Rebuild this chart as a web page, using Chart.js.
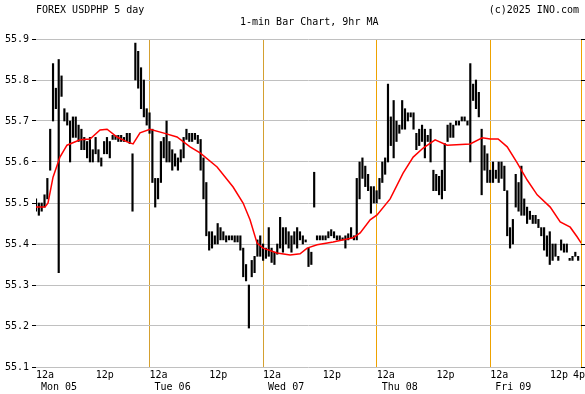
<!DOCTYPE html>
<html>
<head>
<meta charset="utf-8">
<script src="https://cdn.jsdelivr.net/npm/chart.js@4.4.1/dist/chart.umd.min.js"></script>
<style>
  html, body { margin: 0; padding: 0; background: #fff; }
  canvas { display: block; }
</style>
</head>
<body>
<canvas id="fxChart" width="585" height="394"></canvas>
<script>
// 1-min bars, one every 0.025 day starting Mon 12a (x in days)
const barStep = 0.025;
const barHigh = [
  55.51,55.50,55.50,55.52,55.56,55.68,55.84,55.78,55.85,55.81,
  55.73,55.72,55.70,55.71,55.71,55.69,55.68,55.66,55.65,55.66,
  55.63,55.66,55.63,55.61,55.65,55.66,55.65,55.665,55.665,55.665,
  55.665,55.66,55.67,55.67,55.62,55.89,55.87,55.83,55.80,55.73,
  55.72,55.68,55.56,55.56,55.65,55.66,55.70,55.65,55.63,55.62,
  55.61,55.63,55.66,55.68,55.67,55.67,55.67,55.665,55.655,55.61,
  55.55,55.43,55.43,55.42,55.45,55.44,55.43,55.42,55.42,55.42,
  55.42,55.42,55.42,55.39,55.35,55.30,55.36,55.37,55.41,55.42,
  55.40,55.39,55.44,55.39,55.38,55.40,55.465,55.44,55.44,55.43,
  55.42,55.43,55.44,55.43,55.42,55.41,55.39,55.38,55.575,55.42,
  55.42,55.42,55.42,55.43,55.435,55.43,55.42,55.42,55.415,55.42,
  55.425,55.44,55.42,55.56,55.60,55.61,55.59,55.57,55.54,55.54,
  55.53,55.56,55.60,55.61,55.79,55.71,55.75,55.70,55.69,55.75,
  55.73,55.72,55.72,55.72,55.67,55.68,55.69,55.68,55.665,55.68,
  55.58,55.57,55.565,55.58,55.645,55.69,55.695,55.69,55.70,55.70,
  55.71,55.71,55.70,55.84,55.79,55.80,55.77,55.68,55.64,55.62,
  55.58,55.60,55.58,55.60,55.60,55.59,55.53,55.44,55.46,55.57,
  55.55,55.59,55.51,55.49,55.48,55.47,55.47,55.46,55.44,55.44,
  55.42,55.43,55.40,55.40,55.37,55.41,55.40,55.40,55.365,55.37,
  55.38,55.37
];
const barLow = [
  55.48,55.47,55.48,55.49,55.51,55.58,55.70,55.73,55.33,55.76,
  55.70,55.69,55.60,55.66,55.66,55.65,55.63,55.63,55.61,55.60,
  55.60,55.62,55.60,55.59,55.62,55.62,55.61,55.655,55.655,55.65,
  55.65,55.65,55.65,55.645,55.48,55.80,55.78,55.73,55.71,55.69,
  55.67,55.55,55.49,55.51,55.55,55.61,55.60,55.60,55.58,55.59,
  55.58,55.60,55.61,55.655,55.65,55.65,55.655,55.645,55.58,55.51,
  55.42,55.385,55.39,55.40,55.40,55.41,55.41,55.405,55.41,55.41,
  55.405,55.405,55.385,55.32,55.31,55.195,55.32,55.33,55.37,55.37,
  55.36,55.365,55.37,55.355,55.35,55.375,55.39,55.38,55.40,55.39,
  55.38,55.40,55.39,55.41,55.40,55.405,55.345,55.35,55.49,55.41,
  55.41,55.41,55.41,55.415,55.42,55.415,55.41,55.41,55.41,55.39,
  55.41,55.415,55.41,55.41,55.51,55.56,55.54,55.53,55.475,55.50,
  55.50,55.51,55.55,55.57,55.60,55.64,55.61,55.65,55.67,55.68,
  55.68,55.70,55.71,55.68,55.63,55.64,55.65,55.61,55.65,55.60,
  55.53,55.53,55.52,55.51,55.53,55.65,55.66,55.66,55.69,55.69,
  55.70,55.70,55.69,55.60,55.75,55.73,55.71,55.52,55.58,55.55,
  55.55,55.55,55.56,55.55,55.56,55.53,55.42,55.39,55.40,55.49,
  55.48,55.47,55.47,55.45,55.46,55.45,55.45,55.44,55.42,55.385,
  55.37,55.35,55.36,55.37,55.36,55.385,55.38,55.38,55.36,55.36,
  55.37,55.36
];

// 9hr moving average
const maDays = [0,0.079,0.106,0.150,0.211,0.273,0.388,0.476,0.564,0.626,
  0.714,0.802,0.855,0.916,1.004,1.119,1.242,1.357,1.445,1.595,
  1.736,1.824,1.885,1.947,2.000,2.123,2.238,2.326,2.388,2.476,
  2.617,2.740,2.793,2.855,2.943,3.004,3.119,3.233,3.322,3.410,
  3.515,3.621,3.824,3.930,4.000,4.070,4.150,4.238,4.326,4.414,
  4.529,4.617,4.705,4.767,4.802];
const maValues = [55.490,55.490,55.500,55.563,55.612,55.641,55.654,55.656,55.678,55.680,
  55.661,55.649,55.644,55.671,55.680,55.671,55.661,55.637,55.622,55.588,
  55.539,55.500,55.459,55.402,55.390,55.378,55.373,55.376,55.390,55.398,
  55.405,55.412,55.415,55.427,55.459,55.471,55.510,55.573,55.612,55.634,
  55.654,55.641,55.644,55.659,55.656,55.656,55.637,55.598,55.556,55.520,
  55.490,55.454,55.441,55.417,55.402];

// axis
const xTickDays = [0,0.5,1,1.5,2,2.5,3,3.5,4,4.5,4.8];
const xTickLabels = ["12a","12p","12a","12p","12a","12p","12a","12p","12a","12p","4p"];
const dayLabels = ["Mon 05","Tue 06","Wed 07","Thu 08","Fri 09"];
const dayLines = [1,2,3,4,4.8];
const yMin = 55.1, yMax = 55.9;

const monoFont = "DejaVu Sans Mono";

let barData = [];
for (let i = 0; i < barHigh.length; i++) {
  barData.push({x: i * barStep, y: [barLow[i], barHigh[i]]});
}
let maData = [];
for (let i = 0; i < maDays.length; i++) {
  maData.push({x: maDays[i], y: maValues[i]});
}

const textPlugin = {
  id: 'textPlugin',
  afterDraw(chart) {
    const ctx = chart.ctx;
    const xs = chart.scales.x;
    ctx.save();
    ctx.fillStyle = '#000';
    ctx.font = '10px ' + monoFont;
    ctx.textBaseline = 'alphabetic';
    ctx.textAlign = 'left';
    ctx.fillText('FOREX USDPHP 5 day', 36, 13);
    ctx.fillText('1-min Bar Chart, 9hr MA', 240, 25);
    ctx.textAlign = 'right';
    ctx.fillText('(c)2025 INO.com', 579, 13);

    // x labels
    for (let i = 0; i < xTickDays.length; i++) {
      let px = xs.getPixelForValue(xTickDays[i]);
      if (i == xTickDays.length - 1) {
        ctx.textAlign = 'right';
        ctx.fillText(xTickLabels[i], px + 4, 378);
      } else {
        ctx.textAlign = 'left';
        let off = xTickLabels[i] == '12p' ? 3 : 0;
        ctx.fillText(xTickLabels[i], px + off, 378);
      }
    }
    ctx.textAlign = 'left';
    for (let d = 0; d < dayLabels.length; d++) {
      let px = xs.getPixelForValue(d);
      ctx.fillText(dayLabels[d], px + 5, 390);
    }
    ctx.restore();
  }
};

const fxCtx = document.getElementById('fxChart').getContext('2d');
const fxChart = new Chart(fxCtx, {
  type: 'bar',
  data: {
    datasets: [
      {
        type: 'line',
        label: '9hr MA',
        data: maData,
        borderColor: '#ff0000',
        borderWidth: 1.5,
        pointRadius: 0,
        tension: 0,
        order: 0
      },
      {
        type: 'bar',
        label: 'USDPHP',
        data: barData,
        backgroundColor: '#000',
        barThickness: 1.5,
        minBarLength: 2,
        order: 1
      }
    ]
  },
  options: {
    responsive: false,
    animation: false,
    layout: { padding: { top: 39, left: 0, right: 0, bottom: 0 } },
    plugins: {
      legend: { display: false },
      tooltip: { enabled: false },
      title: { display: false }
    },
    scales: {
      x: {
        type: 'linear',
        offset: false,
        min: 0,
        max: 4.8,
        afterBuildTicks: (axis) => { axis.ticks = xTickDays.map(v => ({value: v})); },
        afterFit: (axis) => { axis.height = 27; },
        ticks: { display: false },
        border: { display: false },
        grid: {
          offset: false,
          drawTicks: false,
          lineWidth: 1,
          color: (c) => {
            let v = c.tick ? c.tick.value : 0;
            if (!dayLines.includes(v)) return 'rgba(0,0,0,0)';
            return v <= 2 ? '#d4a030' : '#eea200';
          }
        }
      },
      y: {
        min: yMin,
        max: yMax,
        afterFit: (axis) => { axis.width = 36; },
        ticks: {
          stepSize: 0.1,
          color: '#000',
          padding: 3,
          font: { family: monoFont, size: 10 },
          callback: (v) => Number(v).toFixed(1)
        },
        border: { display: false },
        grid: { color: '#c0c0c0', tickColor: '#000', tickLength: 4, lineWidth: 1 }
      },
      yRight: {
        position: 'right',
        min: yMin,
        max: yMax,
        afterFit: (axis) => { axis.width = 4; },
        ticks: { stepSize: 0.1, display: false },
        border: { display: false },
        grid: { drawOnChartArea: false, tickColor: '#000', tickLength: 4 }
      }
    }
  },
  plugins: [textPlugin]
});
</script>
</body>
</html>
